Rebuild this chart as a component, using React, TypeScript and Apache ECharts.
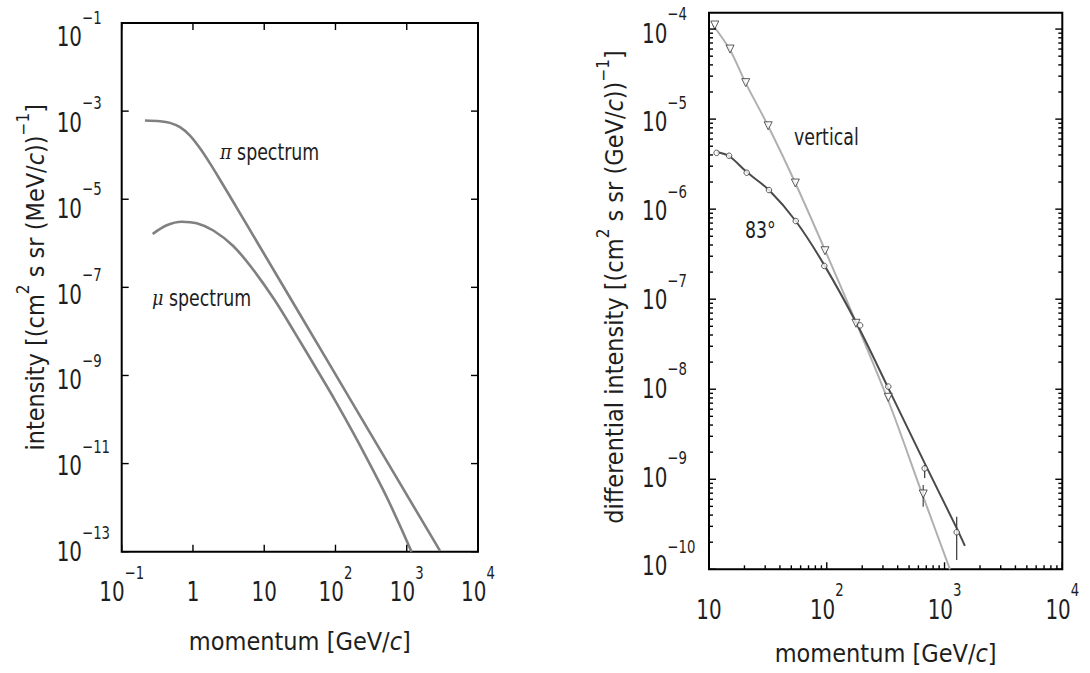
import React, { useEffect, useRef } from "react";
import * as echarts from "echarts";

const FONT = "'Liberation Sans Narrow', 'DejaVu Sans Condensed', 'Arial Narrow', sans-serif";
const INK = "#1e1e1e";

// ---------- Left panel: pi and mu production spectra ----------
const piMomentum = [0.212, 0.345, 0.476, 0.658, 0.909, 1.255, 1.734, 2.396, 3.89, 8.73, 31.8, 221, 2931];
const piIntensity = [6.12e-4, 5.9e-4, 5.41e-4, 4.32e-4, 2.78e-4, 1.43e-4, 6.5e-5, 2.77e-5, 7.48e-6, 8.24e-7, 2.42e-8, 1.21e-10, 1.04e-13];
const muMomentum = [0.272, 0.428, 0.695, 1.13, 1.93, 3.67, 6.72, 14.0, 27.2, 51.9, 98.1, 179, 317, 548, 1167];
const muIntensity = [1.63e-6, 2.56e-6, 3.09e-6, 2.84e-6, 1.95e-6, 8.69e-7, 2.75e-7, 5.16e-8, 9.05e-9, 1.58e-9, 2.77e-10, 4.87e-11, 8.51e-12, 1.49e-12, 1.0e-13];
const leftXTicks = [0.1, 1, 10, 100, 1000, 10000];
const leftYTicks = [1e-13, 1e-11, 1e-9, 1e-7, 1e-5, 1e-3, 1e-1];

// ---------- Right panel: measured muon spectra ----------
const verticalCurveP = [10.8, 15.1, 20.5, 31.8, 54.1, 96.6, 177, 344, 656, 1112];
const verticalCurveI = [1.11e-4, 5.85e-5, 2.51e-5, 8.37e-6, 1.95e-6, 3.51e-7, 5.57e-8, 6.68e-9, 6.52e-10, 1.0e-10];
const inclinedCurveP = [11.6, 14.8, 20.9, 32.3, 54.5, 95.3, 184, 333, 678, 1268, 1489];
const inclinedCurveI = [4.31e-6, 3.89e-6, 2.58e-6, 1.63e-6, 7.38e-7, 2.39e-7, 5.04e-8, 1.03e-8, 1.51e-9, 2.87e-10, 1.82e-10];
const verticalDataP = [11.2, 15.1, 20.5, 31.8, 54.1, 96.6, 177, 333, 659];
const verticalDataI = [1.11e-4, 6.0e-5, 2.54e-5, 8.43e-6, 1.95e-6, 3.45e-7, 5.4e-8, 8.13e-9, 6.86e-10];
const inclinedDataP = [11.6, 14.8, 20.9, 32.3, 54.5, 95.3, 192, 333, 678, 1268];
const inclinedDataI = [4.22e-6, 3.92e-6, 2.54e-6, 1.63e-6, 7.38e-7, 2.34e-7, 5.12e-8, 1.07e-8, 1.32e-9, 2.58e-10];
const verticalErrP = [659];
const verticalErrLo = [4.95e-10];
const verticalErrHi = [8.63e-10];
const inclinedErrP = [678, 1268];
const inclinedErrLo = [1.03e-9, 1.27e-10];
const inclinedErrHi = [1.44e-9, 3.84e-10];
const rightXTicks = [10, 100, 1000, 10000];
const rightYTicks = [1e-10, 1e-9, 1e-8, 1e-7, 1e-6, 1e-5, 1e-4];
const minorSteps = [2, 3, 4, 5, 6, 7, 8, 9];

const LX = [0.1, 10000];
const LY = [1e-13, 1e-1];
const RX = [10, 10000];
const RY = [1e-10, 1.52e-4];

const pairs = (a: number[], b: number[]) => a.map((v, i) => [v, b[i]]);

function powLabel(v: number): string {
  const e = Math.round(Math.log10(v));
  if (e === 0) return "{b|1}";
  if (e === 1) return "{b|10}";
  const s = e < 0 ? "\u2212" + -e : String(e);
  return `{b|10}{s|${s}}`;
}

const labelRich = {
  b: { fontFamily: FONT, fontSize: 27, fill: INK, color: INK },
  s: { fontFamily: FONT, fontSize: 18, fill: INK, color: INK, padding: [0, 0, 38, 0] },
};

function minorList(decades: number[], max: number) {
  const out: number[] = [];
  decades.forEach((d) => minorSteps.forEach((m) => { const v = d * m; if (v < max) out.push(v); }));
  return out;
}

// tick item: [x, y, axis(0=x,1=y), length, mirror]
function tickSeries(gi: number, xt: number[], yt: number[], xMin: number, yMin: number, len: number, mirrorX: number, mirrorY: number) {
  const data: number[][] = [];
  xt.forEach((v) => data.push([v, yMin, 0, len, mirrorX]));
  yt.forEach((v) => data.push([xMin, v, 1, len, mirrorY]));
  return {
    type: "custom",
    xAxisIndex: gi,
    yAxisIndex: gi,
    silent: true,
    z: 6,
    dimensions: ["x", "y", "a", "l", "m"],
    encode: { x: 0, y: 1 },
    data,
    renderItem: (params: any, api: any) => {
      const cs = params.coordSys;
      const pt = api.coord([api.value(0), api.value(1)]);
      const axis = api.value(2);
      const l = api.value(3);
      const mirror = api.value(4);
      const st = { stroke: "#000", lineWidth: 1.4 };
      const children: any[] = [];
      if (axis === 0) {
        const b = cs.y + cs.height;
        children.push({ type: "line", shape: { x1: pt[0], y1: b, x2: pt[0], y2: b - l }, style: st });
        if (mirror) children.push({ type: "line", shape: { x1: pt[0], y1: cs.y, x2: pt[0], y2: cs.y + l }, style: st });
      } else {
        children.push({ type: "line", shape: { x1: cs.x, y1: pt[1], x2: cs.x + l, y2: pt[1] }, style: st });
        if (mirror) children.push({ type: "line", shape: { x1: cs.x + cs.width, y1: pt[1], x2: cs.x + cs.width - l, y2: pt[1] }, style: st });
      }
      return { type: "group", children };
    },
  };
}

// y labels are laid out as in the printed figure: top shift + slight spacing factor
function labelSeries(gi: number, xt: number[], yt: number[], xMin: number, yMin: number, xGap: number, yGap: number, yShift: number, yFactor: number) {
  const data: number[][] = [];
  xt.forEach((v) => data.push([v, yMin, 0]));
  yt.forEach((v) => data.push([xMin, v, 1]));
  return {
    type: "custom",
    xAxisIndex: gi,
    yAxisIndex: gi,
    silent: true,
    z: 6,
    dimensions: ["x", "y", "a"],
    encode: { x: 0, y: 1 },
    data,
    renderItem: (params: any, api: any) => {
      const cs = params.coordSys;
      const pt = api.coord([api.value(0), api.value(1)]);
      const isX = api.value(2) === 0;
      const v = isX ? api.value(0) : api.value(1);
      const text = powLabel(v);
      if (isX) {
        return {
          type: "text",
          x: pt[0],
          y: cs.y + cs.height + xGap,
          scaleX: 0.82,
          style: { text, rich: labelRich, align: "center", verticalAlign: "middle", fill: INK, fontFamily: FONT, fontSize: 27 },
        };
      }
      return {
        type: "text",
        x: cs.x - yGap,
        y: cs.y + yShift + (pt[1] - cs.y) * yFactor,
        scaleX: 0.82,
        style: { text, rich: labelRich, align: "left", verticalAlign: "middle", fill: INK, fontFamily: FONT, fontSize: 27 },
      };
    },
  };
}

function errSeries(gi: number, p: number[], lo: number[], hi: number[], color: string) {
  return {
    type: "custom",
    xAxisIndex: gi,
    yAxisIndex: gi,
    silent: true,
    z: 3,
    dimensions: ["p", "lo", "hi"],
    encode: { x: 0, y: [1, 2] },
    data: p.map((v, i) => [v, lo[i], hi[i]]),
    renderItem: (_params: any, api: any) => {
      const a = api.coord([api.value(0), api.value(1)]);
      const b = api.coord([api.value(0), api.value(2)]);
      return { type: "line", shape: { x1: a[0], y1: a[1], x2: b[0], y2: b[1] }, style: { stroke: color, lineWidth: 1.3 } };
    },
  };
}

const nameStyle = (extra: any = {}) => ({
  fontFamily: FONT,
  fontSize: 25,
  color: INK,
  rich: {
    s: { fontFamily: FONT, fontSize: 17, color: INK, padding: [0, 0, 24, 0] },
    i: { fontFamily: FONT, fontSize: 25, color: INK, fontStyle: "italic" },
  },
  ...extra,
});

const logAxis = (gi: number, range: number[], extra: any = {}) => ({
  type: "log",
  logBase: 10,
  gridIndex: gi,
  min: range[0],
  max: range[1],
  axisLine: { show: false },
  axisTick: { show: false },
  axisLabel: { show: false },
  splitLine: { show: false },
  ...extra,
});

const annotation = (x: number, y: number, text: string) => ({
  type: "text",
  x,
  y,
  scaleX: 0.84,
  style: {
    text,
    rich: { g: { fontFamily: "'DejaVu Serif', serif", fontStyle: "italic", fontSize: 21, fill: INK } },
    fontFamily: FONT,
    fontSize: 23,
    fill: INK,
    verticalAlign: "middle",
  },
});

export default function App() {
  const ref = useRef<HTMLDivElement>(null);
  useEffect(() => {
    if (!ref.current) return;
    const chart = echarts.init(ref.current, undefined, { renderer: "svg" });
    const option: any = {
      animation: false,
      backgroundColor: "#fff",
      grid: [
        { left: 121.7, top: 23, width: 356.3, height: 528.7, show: true, borderColor: "#000", borderWidth: 2, backgroundColor: "transparent" },
        { left: 709, top: 12.7, width: 353.3, height: 556.6, show: true, borderColor: "#000", borderWidth: 2, backgroundColor: "transparent" },
      ],
      xAxis: [
        logAxis(0, LX, { name: "momentum [GeV/{i|c}]", nameLocation: "middle", nameGap: 77, nameTextStyle: nameStyle() }),
        logAxis(1, RX, { name: "momentum [GeV/{i|c}]", nameLocation: "middle", nameGap: 72, nameTextStyle: nameStyle() }),
      ],
      yAxis: [
        logAxis(0, LY, {
          name: "intensity [(cm{s|2} s sr (MeV/{i|c})){s|\u22121}]",
          nameLocation: "middle",
          nameRotate: 90,
          nameGap: 66,
          nameTextStyle: nameStyle({ padding: [0, 0, 0, 20] }),
        }),
        logAxis(1, RY, {
          name: "differential intensity [(cm{s|2} s sr (GeV/{i|c})){s|\u22121}]",
          nameLocation: "middle",
          nameRotate: 90,
          nameGap: 74,
          nameTextStyle: nameStyle({ padding: [0, 0, 0, 8] }),
        }),
      ],
      series: [
        {
          name: "\u03c0 spectrum",
          type: "line",
          xAxisIndex: 0,
          yAxisIndex: 0,
          data: pairs(piMomentum, piIntensity),
          smooth: 0.3,
          showSymbol: false,
          lineStyle: { color: "#808080", width: 2.6 },
          z: 2,
        },
        {
          name: "\u03bc spectrum",
          type: "line",
          xAxisIndex: 0,
          yAxisIndex: 0,
          data: pairs(muMomentum, muIntensity),
          smooth: 0.3,
          showSymbol: false,
          lineStyle: { color: "#808080", width: 2.6 },
          z: 2,
        },
        {
          name: "vertical fit",
          type: "line",
          xAxisIndex: 1,
          yAxisIndex: 1,
          data: pairs(verticalCurveP, verticalCurveI),
          smooth: 0.3,
          showSymbol: false,
          lineStyle: { color: "#b0b0b0", width: 2 },
          z: 2,
        },
        {
          name: "83\u00b0 fit",
          type: "line",
          xAxisIndex: 1,
          yAxisIndex: 1,
          data: pairs(inclinedCurveP, inclinedCurveI),
          smooth: 0.3,
          showSymbol: false,
          lineStyle: { color: "#4a4a4a", width: 2 },
          z: 2,
        },
        errSeries(1, verticalErrP, verticalErrLo, verticalErrHi, "#555"),
        errSeries(1, inclinedErrP, inclinedErrLo, inclinedErrHi, "#444"),
        {
          name: "vertical",
          type: "scatter",
          xAxisIndex: 1,
          yAxisIndex: 1,
          data: pairs(verticalDataP, verticalDataI),
          symbol: "triangle",
          symbolRotate: 180,
          symbolSize: 8,
          itemStyle: { color: "#fff", borderColor: "#333", borderWidth: 1 },
          z: 4,
        },
        {
          name: "83\u00b0",
          type: "scatter",
          xAxisIndex: 1,
          yAxisIndex: 1,
          data: pairs(inclinedDataP, inclinedDataI),
          symbol: "circle",
          symbolSize: 5.5,
          itemStyle: { color: "#fff", borderColor: "#333", borderWidth: 1 },
          z: 4,
        },
        tickSeries(0, leftXTicks, leftYTicks, LX[0], LY[0], 7, 1, 1),
        tickSeries(1, rightXTicks, rightYTicks, RX[0], RY[0], 7, 0, 1),
        tickSeries(1, minorList([10, 100, 1000], RX[1]), minorList([1e-10, 1e-9, 1e-8, 1e-7, 1e-6, 1e-5, 1e-4], RY[1]), RX[0], RY[0], 4, 0, 1),
        labelSeries(0, leftXTicks, leftYTicks, LX[0], LY[0], 40, 65, 13.5, 0.975),
        labelSeries(1, rightXTicks, rightYTicks, RX[0], RY[0], 40, 67, 4.5, 0.986),
      ],
      graphic: [
        annotation(220, 152, "{g|\u03c0} spectrum"),
        annotation(152, 298, "{g|\u03bc} spectrum"),
        annotation(794, 137, "vertical"),
        annotation(745, 230, "83\u00b0"),
      ],
    };
    chart.setOption(option);
    return () => chart.dispose();
  }, []);
  return (
    <div
      ref={ref}
      style={{ position: "fixed", left: 0, top: 0, width: 1090, height: 673, background: "#fff" }}
    />
  );
}
